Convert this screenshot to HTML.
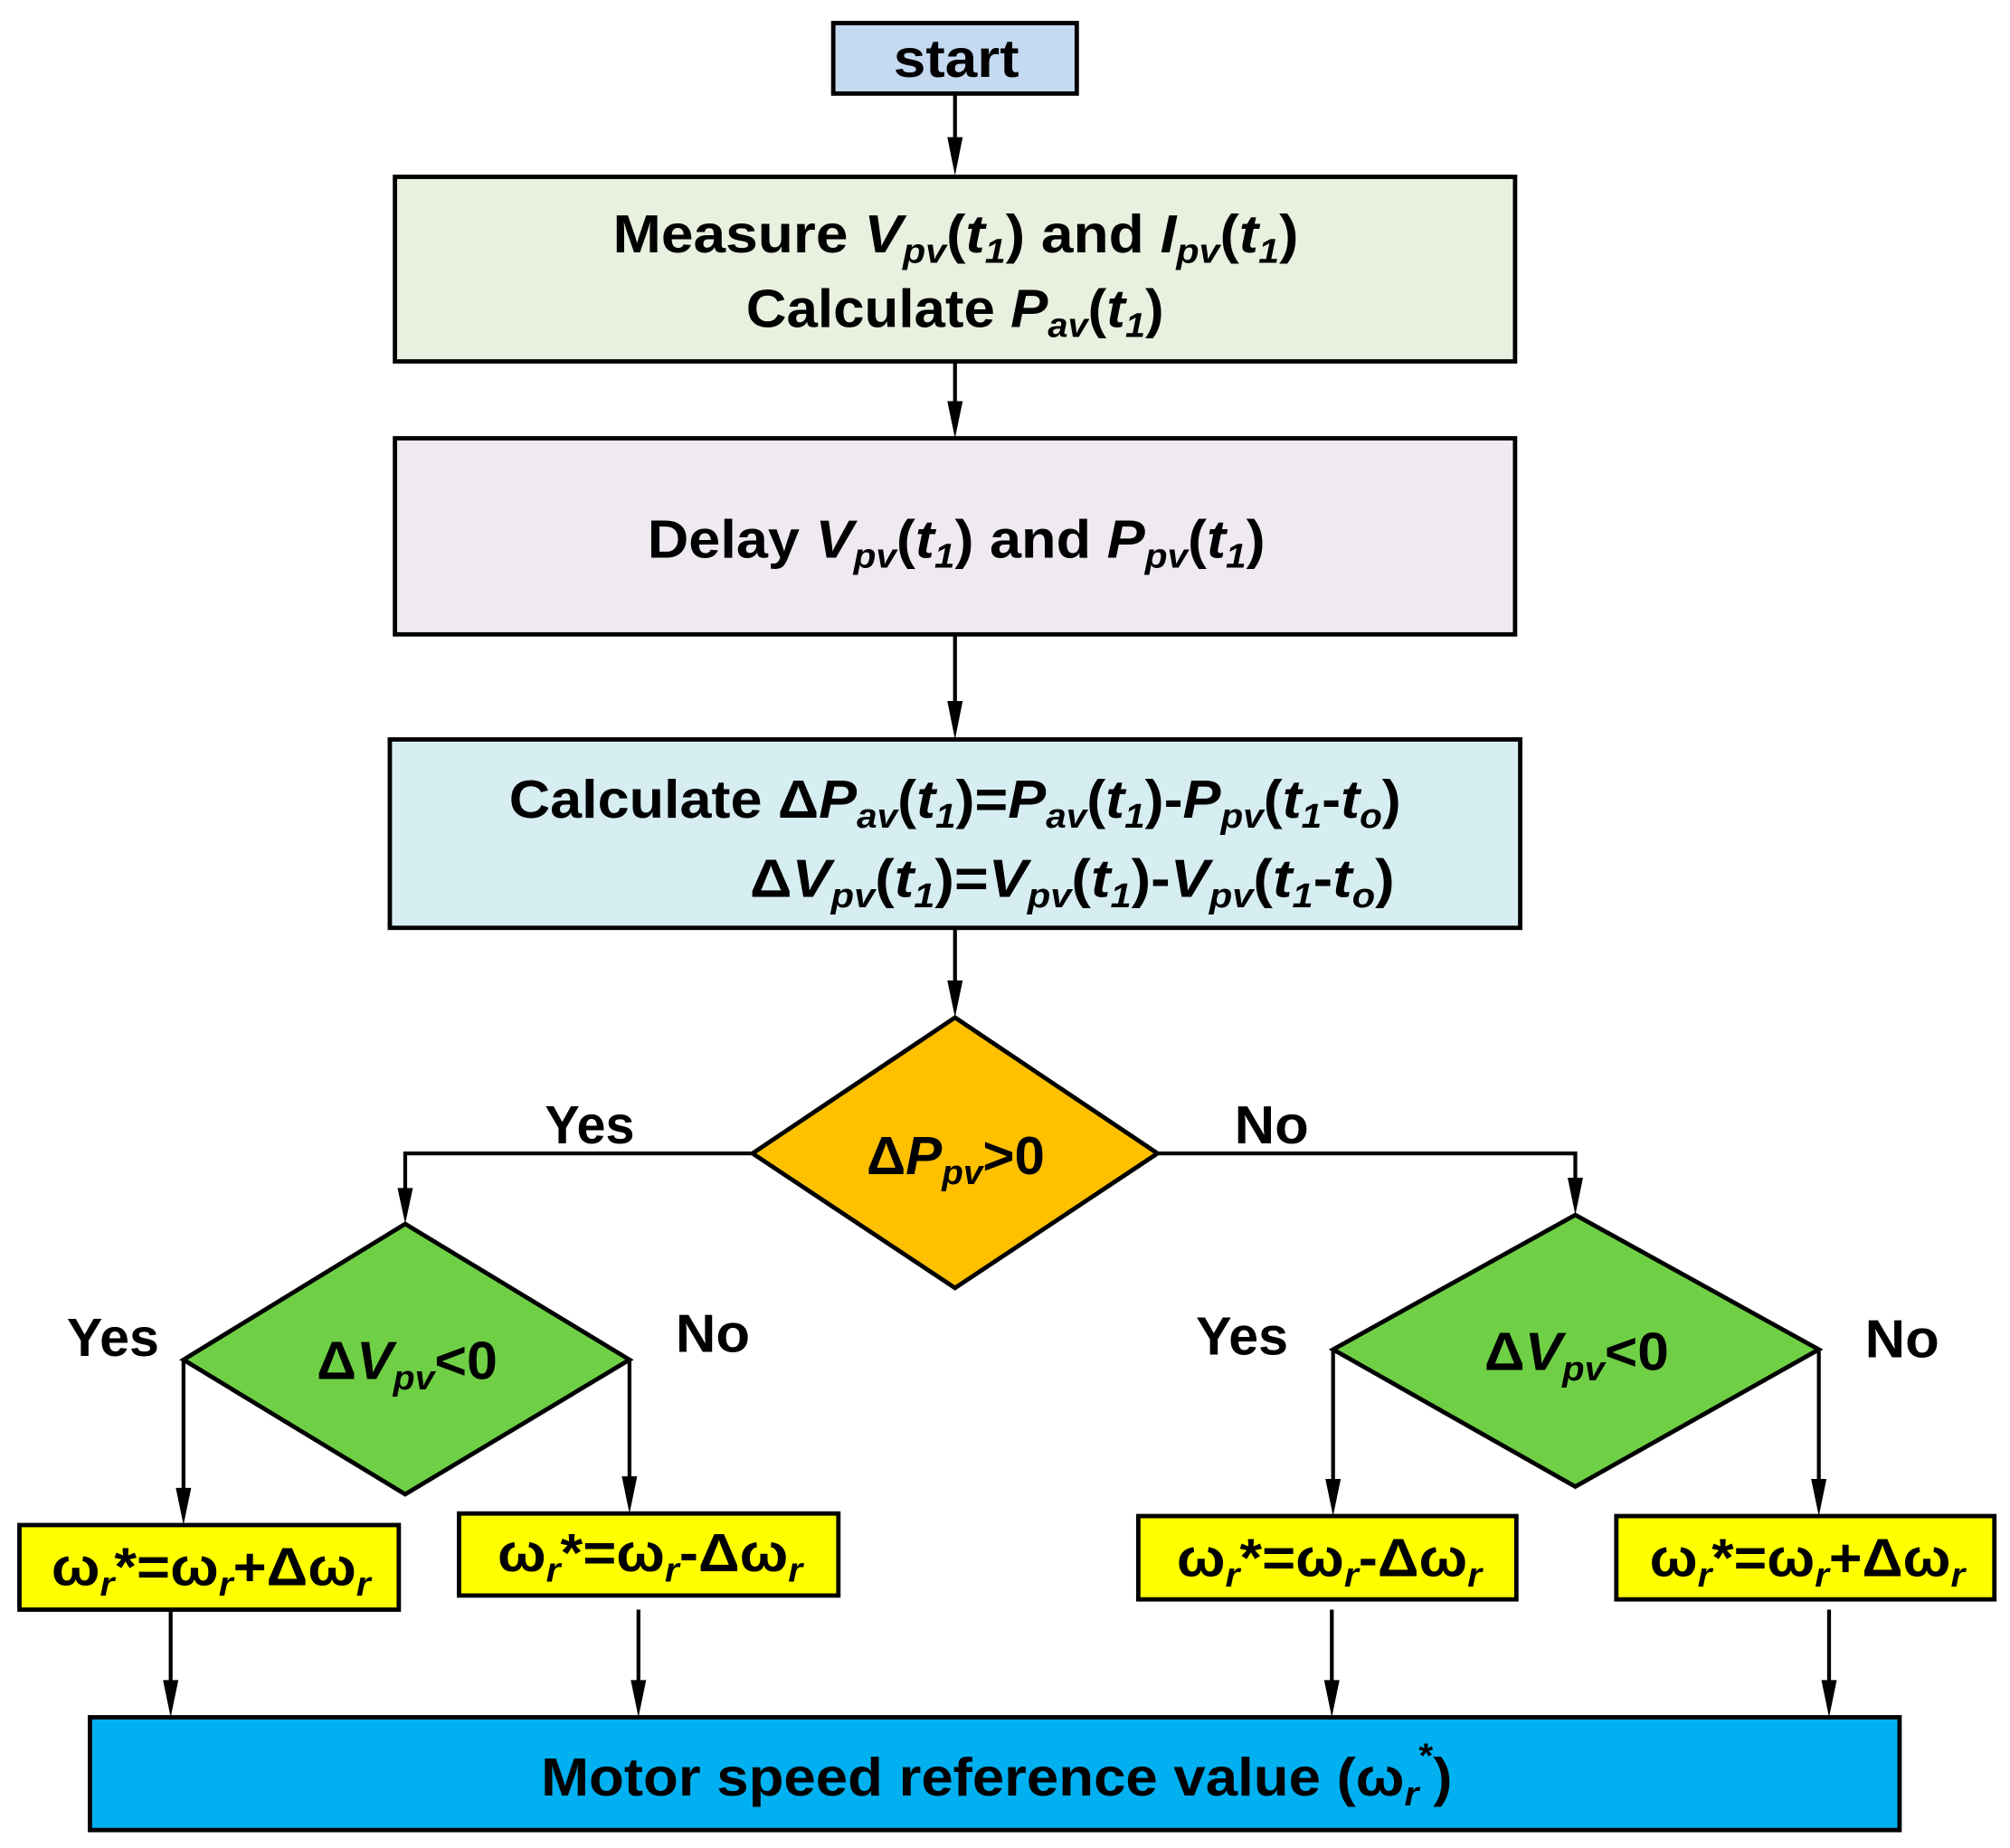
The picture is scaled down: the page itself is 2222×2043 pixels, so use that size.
<!DOCTYPE html>
<html><head><meta charset="utf-8"><style>
html,body{margin:0;padding:0;background:#fff;}
svg{display:block;}
text{font-family:"Liberation Sans",sans-serif;font-weight:bold;fill:#000;}
.i{font-style:italic;}
</style></head><body>
<svg width="2222" height="2043" viewBox="0 0 1568 1442" xmlns="http://www.w3.org/2000/svg">
<g stroke="#000" stroke-width="3.4">
<rect x="650" y="18" width="190" height="55" fill="#c5d9f1"/>
<rect x="308" y="138" width="874" height="144" fill="#e8f1df"/>
<rect x="308" y="342" width="874" height="153" fill="#efe9f1"/>
<rect x="304" y="577" width="882" height="147" fill="#d6edf2"/>
<polygon points="745,794 903,900 745,1005 587,900" fill="#ffc000"/>
<polygon points="316,955 491,1061 316,1166 143,1061" fill="#6fd045"/>
<polygon points="1229,948 1419,1053 1229,1160 1040,1053" fill="#6fd045"/>
<rect x="15" y="1190" width="296" height="66" fill="#ffff00"/>
<rect x="358" y="1181" width="296" height="64" fill="#ffff00"/>
<rect x="888" y="1183" width="295" height="65" fill="#ffff00"/>
<rect x="1261" y="1183" width="295" height="65" fill="#ffff00"/>
<rect x="70" y="1340" width="1412" height="88" fill="#00b0f0"/>
</g>
<g stroke="#000" stroke-width="3" fill="none">
<path d="M745,73 V108"/><path d="M745,282 V314"/><path d="M745,495 V548"/><path d="M745,724 V766"/>
<path d="M587,900 H316 V928"/><path d="M903,900 H1229 V920"/>
<path d="M143,1061 V1162"/><path d="M491,1061 V1153"/><path d="M1040,1053 V1155"/><path d="M1419,1053 V1155"/>
<path d="M133,1256 V1312"/><path d="M498,1256 V1312"/><path d="M1039,1256 V1312"/><path d="M1427,1256 V1312"/>
</g>
<g fill="#000">
<path d="M739,107 L751,107 L745,137 Z"/><path d="M739,313 L751,313 L745,342 Z"/><path d="M739,547 L751,547 L745,577 Z"/><path d="M739,765 L751,765 L745,794 Z"/>
<path d="M310,927 L322,927 L316,955 Z"/><path d="M1223,919 L1235,919 L1229,948 Z"/>
<path d="M137,1161 L149,1161 L143,1190 Z"/><path d="M485,1152 L497,1152 L491,1181 Z"/><path d="M1034,1154 L1046,1154 L1040,1183 Z"/><path d="M1413,1154 L1425,1154 L1419,1183 Z"/>
<path d="M127,1311 L139,1311 L133,1340 Z"/><path d="M492,1311 L504,1311 L498,1340 Z"/><path d="M1033,1311 L1045,1311 L1039,1340 Z"/><path d="M1421,1311 L1433,1311 L1427,1340 Z"/>
</g>
<g font-size="42">
<text x="697" y="60" textLength="98" lengthAdjust="spacingAndGlyphs">start</text>
<text x="478" y="197" textLength="535" lengthAdjust="spacingAndGlyphs">Measure <tspan class="i">V</tspan><tspan class="i" font-size="27" dy="8">pv</tspan><tspan dy="-8">(</tspan><tspan class="i">t</tspan><tspan class="i" font-size="27" dy="8">1</tspan><tspan dy="-8">) and </tspan><tspan class="i">I</tspan><tspan class="i" font-size="27" dy="8">pv</tspan><tspan dy="-8">(</tspan><tspan class="i">t</tspan><tspan class="i" font-size="27" dy="8">1</tspan><tspan dy="-8">)</tspan></text>
<text x="582" y="255" textLength="326" lengthAdjust="spacingAndGlyphs">Calculate <tspan class="i">P</tspan><tspan class="i" font-size="27" dy="8">av</tspan><tspan dy="-8">(</tspan><tspan class="i">t</tspan><tspan class="i" font-size="27" dy="8">1</tspan><tspan dy="-8">)</tspan></text>
<text x="505" y="435" textLength="482" lengthAdjust="spacingAndGlyphs">Delay <tspan class="i">V</tspan><tspan class="i" font-size="27" dy="8">pv</tspan><tspan dy="-8">(</tspan><tspan class="i">t</tspan><tspan class="i" font-size="27" dy="8">1</tspan><tspan dy="-8">) and </tspan><tspan class="i">P</tspan><tspan class="i" font-size="27" dy="8">pv</tspan><tspan dy="-8">(</tspan><tspan class="i">t</tspan><tspan class="i" font-size="27" dy="8">1</tspan><tspan dy="-8">)</tspan></text>
<text x="397" y="638" textLength="696" lengthAdjust="spacingAndGlyphs">Calculate Δ<tspan class="i">P</tspan><tspan class="i" font-size="27" dy="8">av</tspan><tspan dy="-8">(</tspan><tspan class="i">t</tspan><tspan class="i" font-size="27" dy="8">1</tspan><tspan dy="-8">)=</tspan><tspan class="i">P</tspan><tspan class="i" font-size="27" dy="8">av</tspan><tspan dy="-8">(</tspan><tspan class="i">t</tspan><tspan class="i" font-size="27" dy="8">1</tspan><tspan dy="-8">)-</tspan><tspan class="i">P</tspan><tspan class="i" font-size="27" dy="8">pv</tspan><tspan dy="-8">(</tspan><tspan class="i">t</tspan><tspan class="i" font-size="27" dy="8">1</tspan><tspan dy="-8">-</tspan><tspan class="i">t</tspan><tspan class="i" font-size="27" dy="8">o</tspan><tspan dy="-8">)</tspan></text>
<text x="585" y="700" textLength="503" lengthAdjust="spacingAndGlyphs">Δ<tspan class="i">V</tspan><tspan class="i" font-size="27" dy="8">pv</tspan><tspan dy="-8">(</tspan><tspan class="i">t</tspan><tspan class="i" font-size="27" dy="8">1</tspan><tspan dy="-8">)=</tspan><tspan class="i">V</tspan><tspan class="i" font-size="27" dy="8">pv</tspan><tspan dy="-8">(</tspan><tspan class="i">t</tspan><tspan class="i" font-size="27" dy="8">1</tspan><tspan dy="-8">)-</tspan><tspan class="i">V</tspan><tspan class="i" font-size="27" dy="8">pv</tspan><tspan dy="-8">(</tspan><tspan class="i">t</tspan><tspan class="i" font-size="27" dy="8">1</tspan><tspan dy="-8">-</tspan><tspan class="i">t</tspan><tspan class="i" font-size="27" dy="8">o</tspan><tspan dy="-8">)</tspan></text>
<text x="676" y="916" textLength="139" lengthAdjust="spacingAndGlyphs">Δ<tspan class="i">P</tspan><tspan class="i" font-size="27" dy="8">pv</tspan><tspan dy="-8">&gt;0</tspan></text>
<text x="247" y="1076" textLength="141" lengthAdjust="spacingAndGlyphs">Δ<tspan class="i">V</tspan><tspan class="i" font-size="27" dy="8">pv</tspan><tspan dy="-8">&lt;0</tspan></text>
<text x="1158" y="1069" textLength="144" lengthAdjust="spacingAndGlyphs">Δ<tspan class="i">V</tspan><tspan class="i" font-size="27" dy="8">pv</tspan><tspan dy="-8">&lt;0</tspan></text>
<text x="425" y="892" textLength="70" lengthAdjust="spacingAndGlyphs">Yes</text>
<text x="963" y="892" textLength="58" lengthAdjust="spacingAndGlyphs">No</text>
<text x="52" y="1058" textLength="72" lengthAdjust="spacingAndGlyphs">Yes</text>
<text x="527" y="1055" textLength="58" lengthAdjust="spacingAndGlyphs">No</text>
<text x="933" y="1057" textLength="72" lengthAdjust="spacingAndGlyphs">Yes</text>
<text x="1455" y="1059" textLength="58" lengthAdjust="spacingAndGlyphs">No</text>
<text x="40" y="1237" textLength="249" lengthAdjust="spacingAndGlyphs">ω<tspan class="i" font-size="27" dy="8">r</tspan><tspan dy="-8">*=ω</tspan><tspan class="i" font-size="27" dy="8">r</tspan><tspan dy="-8">+Δω</tspan><tspan class="i" font-size="27" dy="8">r</tspan></text>
<text x="388" y="1226" textLength="238" lengthAdjust="spacingAndGlyphs">ω<tspan class="i" font-size="27" dy="8">r</tspan><tspan dy="-8">*=ω</tspan><tspan class="i" font-size="27" dy="8">r</tspan><tspan dy="-8">-Δω</tspan><tspan class="i" font-size="27" dy="8">r</tspan></text>
<text x="918" y="1230" textLength="238" lengthAdjust="spacingAndGlyphs">ω<tspan class="i" font-size="27" dy="8">r</tspan><tspan dy="-8">*=ω</tspan><tspan class="i" font-size="27" dy="8">r</tspan><tspan dy="-8">-Δω</tspan><tspan class="i" font-size="27" dy="8">r</tspan></text>
<text x="1287" y="1230" textLength="246" lengthAdjust="spacingAndGlyphs">ω<tspan class="i" font-size="27" dy="8">r</tspan><tspan dy="-8">*=ω</tspan><tspan class="i" font-size="27" dy="8">r</tspan><tspan dy="-8">+Δω</tspan><tspan class="i" font-size="27" dy="8">r</tspan></text>
<text x="422" y="1401" textLength="711" lengthAdjust="spacingAndGlyphs">Motor speed reference value (ω<tspan class="i" font-size="27" dy="8">r</tspan><tspan font-size="27" dy="-30">*</tspan><tspan dy="22">)</tspan></text>
</g>
</svg>
</body></html>
